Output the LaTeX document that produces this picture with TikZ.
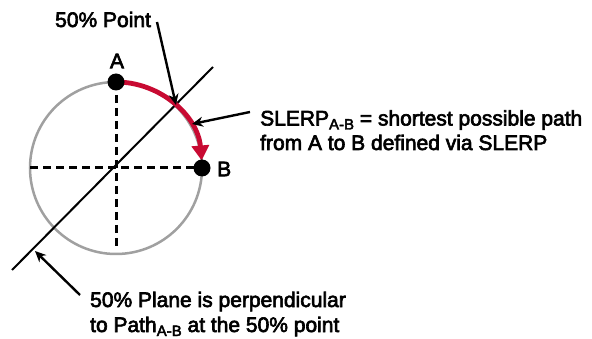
\documentclass[tikz,border=0pt]{standalone}
\usepackage{fontspec}
\setmainfont{Liberation Sans}[FakeBold=3]
\usetikzlibrary{arrows.meta,calc}
\definecolor{arcred}{RGB}{200,10,50}
\definecolor{circgray}{RGB}{160,160,160}
\newcommand{\subab}{\raisebox{-4pt}{\fontsize{15}{15}\selectfont A-B}}
\begin{document}
\begin{tikzpicture}[x=1pt,y=-1pt,
  dot/.style={circle,fill=black,inner sep=0,minimum size=17pt},
  lbl/.style={font=\fontsize{21}{25}\selectfont, inner sep=0},
  guide/.style={line width=3pt, dash pattern=on 8pt off 5pt},
  callout/.style={line width=2.4pt, -{Stealth[length=11pt,width=10pt]}},
]
\useasboundingbox (0,0) rectangle (592,339);
\coordinate (O) at (116,168);
\draw[circgray, line width=2.5pt] (O) circle[radius=86];
\coordinate (V) at (116,250);
\coordinate (H) at (30,168);
\coordinate (Ac) at (116,82);
\coordinate (Bc) at (202,168);
\draw[guide] (Ac) -- (V);
\draw[guide] (H) -- (Bc);
\coordinate (P1) at (12,270);
\coordinate (P2) at (213,67);
\draw[line width=2pt] (P1) -- (P2);
\draw[arcred, line width=4.8pt, -{Triangle[length=15pt,width=17pt]}] (Ac) arc[start angle=-90, end angle=-5, radius=86];
\node[dot] (A) at (Ac) {};
\node[dot] (B) at (Bc) {};
\node[lbl] (la) at (117,61) {A};
\node[lbl, anchor=west] (lb) at (217,169) {B};
\node[lbl, anchor=base west] (pt) at (55,27) {50\% Point};
\node[lbl, anchor=base west] (s1) at (260,125.5) {SLERP\subab{} = shortest possible path};
\node[lbl, anchor=base west] (s2) at (260,150) {from A to B defined via SLERP};
\node[lbl, anchor=base west] (p1) at (90,307) {50\% Plane is perpendicular};
\node[lbl, anchor=base west] (p2) at (90,332) {to Path\subab{} at the 50\% point};
\coordinate (c1s) at (157,22);
\coordinate (c1e) at (176,105);
\coordinate (c2s) at (250,112);
\coordinate (c2e) at (192,124);
\coordinate (c3s) at (80,295);
\coordinate (c3e) at (35,251);
\draw[callout] (c1s) -- (c1e);
\draw[callout] (c2s) -- (c2e);
\draw[callout] (c3s) -- (c3e);
\end{tikzpicture}
\end{document}
